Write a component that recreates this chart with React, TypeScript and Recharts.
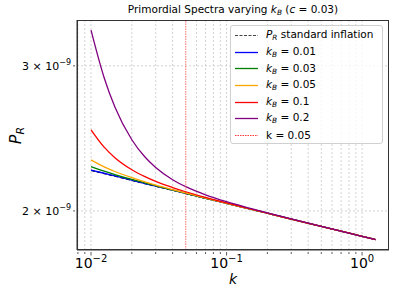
import { LineChart, Line, XAxis, YAxis, CartesianGrid, ReferenceLine } from "recharts";

// k grid and P_R values (units of 1e-9)
const K = [0.01, 0.0125, 0.015, 0.02, 0.025, 0.03, 0.04, 0.05, 0.07, 0.1, 0.15, 0.2, 0.3, 0.5, 0.7, 1.0, 1.26];
const STD = [2.240, 2.220, 2.204, 2.178, 2.159, 2.143, 2.119, 2.100, 2.072, 2.043, 2.010, 1.987, 1.955, 1.915, 1.890, 1.863, 1.846];
const KB_001 = [2.242, 2.222, 2.205, 2.179, 2.159, 2.144, 2.119, 2.100, 2.072, 2.043, 2.010, 1.987, 1.955, 1.915, 1.890, 1.863, 1.846];
const KB_003 = [2.264, 2.235, 2.214, 2.184, 2.163, 2.146, 2.120, 2.101, 2.072, 2.043, 2.010, 1.987, 1.955, 1.915, 1.890, 1.863, 1.846];
const KB_005 = [2.307, 2.262, 2.233, 2.195, 2.169, 2.150, 2.123, 2.103, 2.073, 2.043, 2.010, 1.987, 1.955, 1.915, 1.890, 1.863, 1.846];
const KB_01 = [2.509, 2.390, 2.321, 2.244, 2.201, 2.172, 2.135, 2.110, 2.077, 2.045, 2.011, 1.987, 1.955, 1.915, 1.890, 1.863, 1.846];
const KB_02 = [3.315, 2.902, 2.674, 2.440, 2.325, 2.258, 2.182, 2.140, 2.092, 2.052, 2.014, 1.989, 1.956, 1.916, 1.890, 1.863, 1.846];

const X_TICKS = [0.008, 0.009, 0.01, 0.02, 0.03, 0.04, 0.05, 0.06, 0.07, 0.08, 0.09, 0.1, 0.2, 0.3, 0.4, 0.5, 0.6, 0.7, 0.8, 0.9, 1.0];
const X_MAJOR: Record<string, string> = { "0.01": "−2", "0.1": "−1", "1": "0" };
const Y_TICKS = [2, 3];
const K_PIVOT = 0.05;

const SERIES = [
  { key: "kb001", label: "0.01", color: "#0000ff", values: KB_001 },
  { key: "kb003", label: "0.03", color: "#008000", values: KB_003 },
  { key: "kb005", label: "0.05", color: "#ffa500", values: KB_005 },
  { key: "kb01", label: "0.1", color: "#ff0000", values: KB_01 },
  { key: "kb02", label: "0.2", color: "#800080", values: KB_02 },
];

const data = K.map((k, i) => {
  const row: Record<string, number> = { k, std: STD[i] };
  SERIES.forEach((s) => (row[s.key] = s.values[i]));
  return row;
});

const FONT = "'DejaVu Sans', sans-serif";
const PIVOT_COLOR = "#ff3b3b";

function XTick({ x, y, payload }: any) {
  const exp = X_MAJOR[String(payload.value)];
  return (
    <g>
      <line x1={x} x2={x} y1={y} y2={y + (exp ? 3.5 : 2)} stroke="#333" strokeWidth={0.8} />
      {exp && (
        <text x={x} y={y + 16} textAnchor="middle" fontSize={14} fill="#000" fontFamily={FONT}>
          10<tspan dy={-6} fontSize={10}>{exp}</tspan>
        </text>
      )}
    </g>
  );
}

function YTick({ x, y, payload }: any) {
  return (
    <g>
      <line x1={x - 2} x2={x} y1={y} y2={y} stroke="#333" strokeWidth={0.8} />
      <text x={x - 4} y={y + 4} textAnchor="end" fontSize={11} fill="#000" fontFamily={FONT}>
        {payload.value} × 10<tspan dy={-5} fontSize={8}>−9</tspan>
      </text>
    </g>
  );
}

const yLabel = () => (
  <text transform="translate(21,135.5) rotate(-90)" textAnchor="middle" fontFamily={FONT} fill="#000">
    <tspan fontSize={16} fontStyle="italic">P</tspan>
    <tspan fontSize={11} fontStyle="italic" dy={3}>R</tspan>
  </text>
);

const xLabel = () => (
  <text x={233} y={284} textAnchor="middle" fontFamily={FONT} fontSize={14} fontStyle="italic" fill="#000">
    k
  </text>
);

function Sub({ main, sub }: { main: string; sub: string }) {
  return (
    <span>
      <i>{main}</i>
      <i style={{ fontSize: "0.7em", verticalAlign: "-0.25em" }}>{sub}</i>
    </span>
  );
}

function LegendBox() {
  const rows = [
    { sample: { stroke: "#444", dash: "3 1.5", width: 1.2 }, text: <><Sub main="P" sub="R" /> standard inflation</> },
    ...SERIES.map((s) => ({
      sample: { stroke: s.color, dash: undefined as string | undefined, width: 1.3 },
      text: <><Sub main="k" sub="B" /> = {s.label}</>,
    })),
    { sample: { stroke: PIVOT_COLOR, dash: "1.5 1", width: 1 }, text: <>k = 0.05</> },
  ];
  return (
    <div
      style={{
        position: "absolute",
        left: 230,
        top: 25,
        width: 153,
        height: 119,
        boxSizing: "border-box",
        border: "1px solid #d0d0d0",
        borderRadius: 3,
        background: "rgba(255,255,255,0.8)",
        fontFamily: FONT,
        fontSize: 10.5,
        paddingTop: 1,
      }}
    >
      {rows.map((r, i) => (
        <div key={i} style={{ height: 16.6, display: "flex", alignItems: "center", whiteSpace: "nowrap" }}>
          <svg width={35} height={10} style={{ flex: "none" }}>
            <line x1={4} x2={27} y1={5.5} y2={5.5} stroke={r.sample.stroke} strokeWidth={r.sample.width} strokeDasharray={r.sample.dash} />
          </svg>
          <span>{r.text}</span>
        </div>
      ))}
    </div>
  );
}

export default function App() {
  return (
    <div style={{ position: "relative", width: 397, height: 297, background: "#fff" }}>
      <style>{"body{margin:0}"}</style>
      <div
        style={{
          position: "absolute",
          left: 77,
          width: 312,
          top: 3,
          textAlign: "center",
          fontFamily: FONT,
          fontSize: 10.5,
          whiteSpace: "nowrap",
        }}
      >
        Primordial Spectra varying <Sub main="k" sub="B" /> (<i>c</i> = 0.03)
      </div>
      <LineChart width={397} height={297} data={data} margin={{ top: 20, right: 8, bottom: 0, left: 0 }}>
        <CartesianGrid
          stroke="#c8c8c8"
          strokeDasharray="2 2"
          strokeWidth={0.8}
          verticalValues={X_TICKS.filter((t) => t !== K_PIVOT)}
          horizontalValues={Y_TICKS}
        />
        <XAxis
          dataKey="k"
          type="number"
          scale="log"
          domain={[0.00788, 1.58]}
          allowDataOverflow
          ticks={X_TICKS}
          tick={<XTick />}
          tickLine={false}
          tickSize={0}
          interval={0}
          height={47}
          axisLine={{ stroke: "#333" }}
          label={xLabel}
        />
        <YAxis
          type="number"
          scale="log"
          domain={[1.793, 3.41]}
          allowDataOverflow
          ticks={Y_TICKS}
          tick={<YTick />}
          tickLine={false}
          tickSize={0}
          width={77}
          axisLine={{ stroke: "#333" }}
          label={yLabel}
        />
        <Line dataKey="std" stroke="#000" strokeDasharray="4 2" strokeWidth={1.3} dot={false} type="monotone" isAnimationActive={false} />
        {SERIES.map((s) => (
          <Line key={s.key} dataKey={s.key} stroke={s.color} strokeWidth={1.3} dot={false} type="monotone" isAnimationActive={false} />
        ))}
        <ReferenceLine x={K_PIVOT} stroke={PIVOT_COLOR} strokeOpacity={0.75} strokeDasharray="1.5 1" strokeWidth={1} />
      </LineChart>
      <div
        style={{
          position: "absolute",
          left: 77,
          top: 20,
          width: 312,
          height: 230,
          boxSizing: "border-box",
          border: "1px solid #333",
          pointerEvents: "none",
        }}
      />
      <LegendBox />
    </div>
  );
}
